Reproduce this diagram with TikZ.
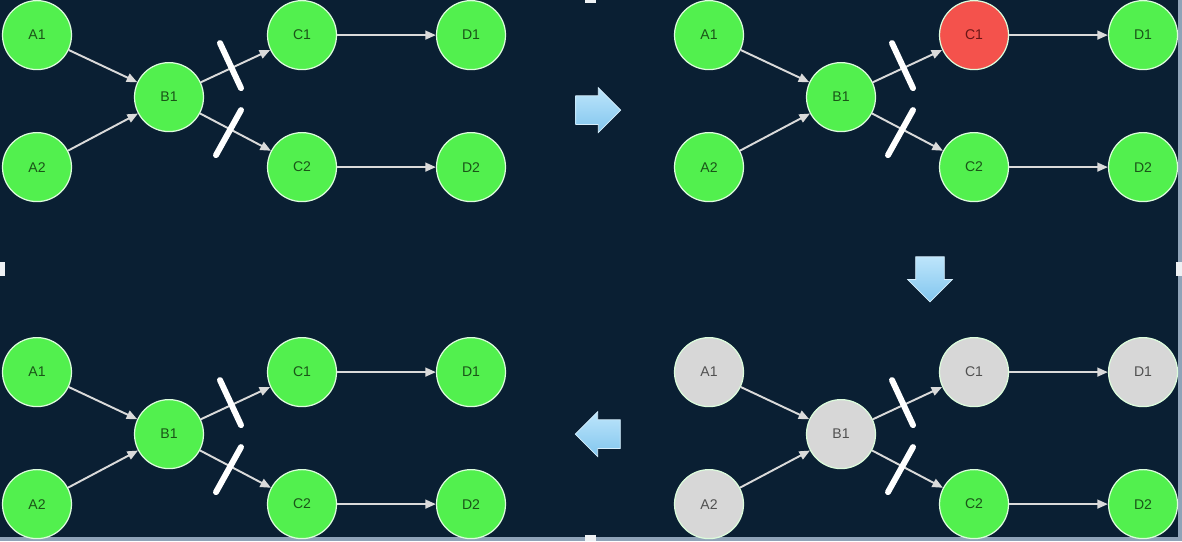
\documentclass[tikz,border=0pt]{standalone}
\usepackage{fontspec}
\setmainfont{Liberation Sans}
\usetikzlibrary{arrows.meta,shapes.arrows}

\definecolor{navy}{HTML}{0A1F33}
\definecolor{okgreen}{HTML}{52F04E}
\definecolor{okdark}{HTML}{1A5418}
\definecolor{failred}{HTML}{F4524C}
\definecolor{faildark}{HTML}{6A1616}
\definecolor{offgray}{HTML}{D7D7D7}
\definecolor{offdark}{HTML}{505050}
\definecolor{edgegray}{HTML}{DADADA}
\definecolor{framegray}{HTML}{8FA3B8}
\definecolor{skytop}{HTML}{BDE5FB}
\definecolor{skybottom}{HTML}{82C6EE}

\begin{document}
\begin{tikzpicture}[x=0.02cm,y=-0.02cm,
        state/.style={circle,draw=white!80!okgreen,line width=0.7pt,
            minimum size=1.38cm,inner sep=0pt,font=\fontsize{8}{9}\selectfont},
        okstate/.style={state,fill=okgreen,text=okdark},
        failstate/.style={state,fill=failred,text=faildark},
        offstate/.style={state,fill=offgray,text=offdark},
        dep/.style={draw=edgegray,line width=1.1pt,-{Triangle[length=6pt,width=5pt]}},
        cutbar/.style={draw=white,line width=3.4pt,line cap=round},
        flowarrow/.style={single arrow,draw=skytop!60!white,line width=0.4pt,
            top color=skytop,bottom color=skybottom,
            minimum height=0.9cm,inner sep=0.28cm,
            single arrow head extend=0.16cm,single arrow head indent=0pt}]

            % background and window frame
            \fill[navy] (0,0) rectangle (1182,541);
            \fill[framegray] (1178,0) rectangle (1182,541);
            \fill[framegray] (0,537) rectangle (1182,541);
            \fill[white!85!framegray] (585,0) rectangle (596,3);
            \fill[white!85!framegray] (585,535) rectangle (596,541);
            \fill[white!85!framegray] (0,262) rectangle (5,276);
            \fill[white!85!framegray] (1176,262) rectangle (1182,276);

            \foreach \px/\py/\p/\ca/\cb/\cc/\cd in {0/0/1/okstate/okstate/okstate/okstate,
                    672/0/2/okstate/okstate/failstate/okstate,
                    672/337/3/offstate/offstate/offstate/offstate,
                    0/337/4/okstate/okstate/okstate/okstate}{
                \begin{scope}[shift={(\px,\py)}]
                    \node[\ca] (A1\p) at (37,35) {A1};
                    \node[\ca] (A2\p) at (37,167) {A2};
                    \node[\cb] (B1\p) at (169,97) {B1};
                    \node[\cc] (C1\p) at (302,35) {C1};
                    \node[okstate] (C2\p) at (302,167) {C2};
                    \node[\cd] (D1\p) at (471,35) {D1};
                    \node[okstate] (D2\p) at (471,167) {D2};

                    \draw[dep] (A1\p) -- (B1\p);
                    \draw[dep] (A2\p) -- (B1\p);
                    \draw[dep] (B1\p) -- (C1\p);
                    \draw[dep] (B1\p) -- (C2\p);
                    \draw[dep] (C1\p) -- (D1\p);
                    \draw[dep] (C2\p) -- (D2\p);

                    \draw[cutbar] (220,43) -- (241,88);
                    \draw[cutbar] (241,110) -- (216,155);
                \end{scope}
            }

            \node[flowarrow] (toright) at (591,110) {};
            \node[flowarrow,shape border rotate=270] (todown) at (930,272) {};
            \node[flowarrow,shape border rotate=180] (toleft) at (605,434) {};

            \useasboundingbox (0,0) rectangle (1182,541);
        \end{tikzpicture}
\end{document}
